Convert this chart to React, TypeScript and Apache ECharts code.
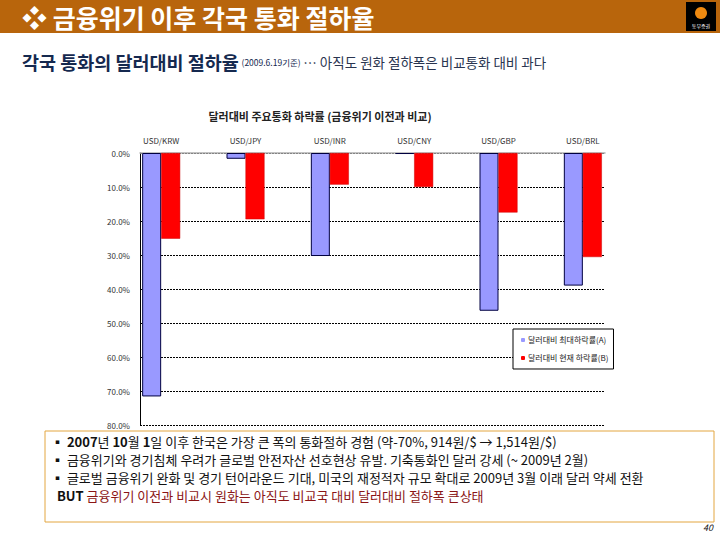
import React, { useEffect, useRef } from "react";
import * as echarts from "echarts";

const categories = ["USD/KRW", "USD/JPY", "USD/INR", "USD/CNY", "USD/GBP", "USD/BRL"];
const maxDrop = [71.6, 1.7, 30.3, 0.3, 46.4, 39.0];
const currentDrop = [25.2, 19.5, 9.3, 10.0, 17.5, 30.6];
const seriesNames = ["달러대비 최대하락률(A)", "달러대비 현재 하락률(B)"];
const yTicks = { min: 0, max: 80, interval: 10 };

const KFONT = "'Noto Sans CJK KR', 'Noto Sans', sans-serif";

export default function App() {
  const ref = useRef<HTMLDivElement>(null);
  useEffect(() => {
    if (!ref.current) return;
    const chart = echarts.init(ref.current, null, { renderer: "svg" });
    const FS = 13;
    const lineStyle = { fontFamily: KFONT, fontSize: FS, fill: "#111" };
    chart.setOption({
      animation: false,
      backgroundColor: "#ffffff",
      textStyle: { fontFamily: KFONT },
      title: {
        text: "달러대비 주요통화 하락률 (금융위기 이전과 비교)",
        left: 315,
        textAlign: "center",
        top: 105,
        textStyle: { fontSize: 11, fontWeight: "bold", color: "#222", fontFamily: KFONT },
      },
      legend: {
        orient: "vertical",
        left: 513,
        top: 329,
        width: 94,
        backgroundColor: "#fff",
        borderColor: "#000",
        borderWidth: 1,
        borderRadius: 0,
        padding: [7, 5, 7, 8],
        itemWidth: 4,
        itemHeight: 4,
        itemGap: 10,
        itemStyle: { borderWidth: 0 },
        textStyle: { fontSize: 8, color: "#222", fontFamily: KFONT, padding: [0, 0, 0, -2] },
        data: seriesNames,
      },
      grid: [
        { left: 140, top: 153, width: 465, height: 272 },
        { left: 119, top: 153, width: 506, height: 272 },
      ],
      xAxis: [
        {
          gridIndex: 0,
          type: "category",
          data: categories,
          position: "top",
          axisLine: { show: true, onZero: false, lineStyle: { color: "#b0b0b0", width: 1.5 } },
          axisTick: { show: false },
          axisLabel: { show: false },
          splitLine: { show: false },
        },
        {
          gridIndex: 1,
          type: "category",
          data: categories,
          position: "top",
          axisLine: { show: false },
          axisTick: { show: false },
          axisLabel: { show: true, fontSize: 8, color: "#333", margin: 9, fontFamily: KFONT },
          splitLine: { show: false },
        },
      ],
      yAxis: [
        {
          gridIndex: 0,
          type: "value",
          inverse: true,
          min: yTicks.min,
          max: yTicks.max,
          interval: yTicks.interval,
          axisLine: { show: true, lineStyle: { color: "#000", width: 1 } },
          axisTick: { show: false },
          axisLabel: {
            fontSize: 8,
            color: "#333",
            margin: 10,
            fontFamily: KFONT,
            formatter: (v: number) => v.toFixed(1) + "%",
          },
          splitLine: {
            show: true,
            lineStyle: { color: "#000", type: [2, 1], width: 1 },
          },
        },
        {
          gridIndex: 1,
          type: "value",
          inverse: true,
          min: yTicks.min,
          max: yTicks.max,
          interval: yTicks.interval,
          show: false,
          splitLine: { show: false },
        },
      ],
      series: [
        {
          name: seriesNames[0],
          type: "bar",
          xAxisIndex: 1,
          yAxisIndex: 1,
          data: maxDrop,
          barWidth: 19,
          barGap: "0%",
          itemStyle: { color: "#9999FF", borderColor: "#000040", borderWidth: 1 },
        },
        {
          name: seriesNames[1],
          type: "bar",
          xAxisIndex: 1,
          yAxisIndex: 1,
          data: currentDrop,
          barWidth: 19,
          barGap: "0%",
          itemStyle: { color: "#FF0000", borderColor: "#cc0000", borderWidth: 0.5 },
        },
      ],
      graphic: [
        { type: "rect", shape: { x: 0, y: 0, width: 720, height: 33 }, style: { fill: "#B8650C" }, z: 10 },
        {
          type: "text",
          x: 22,
          y: 17,
          z: 11,
          style: {
            text: "❖ 금융위기 이후 각국 통화 절하율",
            fill: "#ffffff",
            fontSize: 25,
            lineHeight: 28,
            fontWeight: "bold",
            fontFamily: KFONT,
            verticalAlign: "middle",
          },
        },
        { type: "rect", shape: { x: 686, y: 2, width: 30, height: 29 }, style: { fill: "#000" }, z: 11 },
        { type: "circle", shape: { cx: 701, cy: 13, r: 6 }, style: { fill: "#F08A10" }, z: 12 },
        {
          type: "text",
          x: 701,
          y: 25,
          z: 12,
          style: { text: "동부증권", fill: "#fff", fontSize: 5, fontFamily: KFONT, align: "center", verticalAlign: "middle" },
        },
        {
          type: "text",
          x: 22,
          y: 62,
          style: {
            text: "{a|각국 통화의 달러대비 절하율} {b|(2009.6.19기준)} {c|… 아직도 원화 절하폭은 비교통화 대비 과다}",
            verticalAlign: "middle",
            fontFamily: KFONT,
            rich: {
              a: { fontSize: 18.5, fontWeight: "bold", fill: "#15294f", fontFamily: KFONT },
              b: { fontSize: 8.5, fill: "#15294f", fontFamily: KFONT },
              c: { fontSize: 13.5, fill: "#2a3550", fontFamily: KFONT },
            },
          },
        },
        {
          type: "rect",
          shape: { x: 45, y: 431, width: 669, height: 91 },
          style: { fill: "#fff", stroke: "#E3A640", lineWidth: 1 },
        },
        {
          type: "text",
          x: 51,
          y: 441,
          style: {
            text: "▪ {n|2007}년 {n|10}월 {n|1}일 이후 한국은 가장 큰 폭의 통화절하 경험 (약-70%, 914원/$ → 1,514원/$)",
            ...lineStyle,
            verticalAlign: "middle",
            rich: { n: { fontWeight: "bold", fontSize: FS, fill: "#111", fontFamily: KFONT } },
          },
        },
        {
          type: "text",
          x: 51,
          y: 459,
          style: {
            text: "▪ 금융위기와 경기침체 우려가 글로벌 안전자산 선호현상 유발. 기축통화인 달러 강세 (~ 2009년 2월)",
            ...lineStyle,
            verticalAlign: "middle",
          },
        },
        {
          type: "text",
          x: 51,
          y: 477,
          style: {
            text: "▪ 글로벌 금융위기 완화 및 경기 턴어라운드 기대, 미국의 재정적자 규모 확대로 2009년 3월 이래 달러 약세 전환",
            ...lineStyle,
            verticalAlign: "middle",
          },
        },
        {
          type: "text",
          x: 57,
          y: 495,
          style: {
            text: "{k|BUT} {r|금융위기 이전과 비교시 원화는 아직도 비교국 대비 달러대비 절하폭 큰상태}",
            ...lineStyle,
            verticalAlign: "middle",
            rich: {
              k: { fontWeight: "bold", fontSize: FS, fill: "#111", fontFamily: KFONT },
              r: { fontSize: FS, fill: "#8B1515", fontFamily: KFONT },
            },
          },
        },
        {
          type: "text",
          x: 703,
          y: 527,
          style: { text: "40", fontSize: 9, fontStyle: "italic", fill: "#111", fontFamily: KFONT, verticalAlign: "middle" },
        },
      ],
    });
    return () => chart.dispose();
  }, []);
  return (
    <div
      ref={ref}
      style={{ position: "fixed", left: 0, top: 0, width: 720, height: 540, background: "#fff" }}
    />
  );
}
